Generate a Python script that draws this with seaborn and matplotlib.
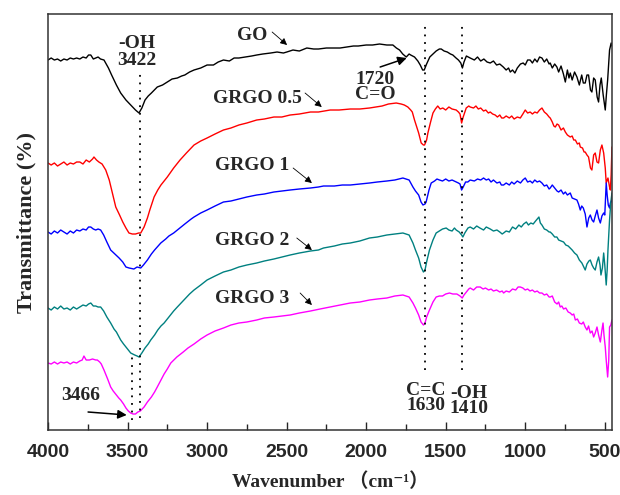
import matplotlib
matplotlib.use('Agg')
import matplotlib.pyplot as plt
import seaborn as sns
from matplotlib.ticker import MultipleLocator

# FTIR spectra (wavenumber in cm-1, transmittance in arbitrary offset units)
go_wn = [4000, 3980, 3960, 3940, 3920, 3900, 3880, 3860, 3840, 3820, 3800, 3780, 3760, 3745, 3731,
         3715, 3700, 3685, 3670, 3648, 3620, 3600, 3570, 3543, 3510, 3480, 3450, 3428, 3410, 3390,
         3370, 3350, 3313, 3280, 3250, 3220, 3187, 3160, 3140, 3110, 3082, 3040, 3000, 2960, 2930,
         2897, 2860, 2830, 2800, 2760, 2720, 2688, 2650, 2600, 2560, 2520, 2499, 2460, 2420, 2373,
         2330, 2300, 2250, 2200, 2164, 2120, 2080, 2050, 2000, 1960, 1916, 1870, 1832, 1810, 1790,
         1770, 1748, 1730, 1720, 1696, 1675, 1660, 1645, 1635, 1620, 1600, 1580, 1560, 1540, 1528,
         1510, 1490, 1470, 1455, 1435, 1420, 1405, 1395, 1385, 1370,
         1346, 1320, 1300, 1280, 1260, 1240, 1220, 1200, 1180, 1160, 1138, 1120, 1105, 1094, 1080,
         1065, 1050, 1030, 1013, 1000, 985, 969, 955, 940, 925, 910, 895, 880, 865, 850, 843, 830,
         815, 801, 790, 775, 760, 748, 735, 725, 717, 705, 690, 675, 660, 645, 635, 623, 612, 602,
         590, 581, 570, 560, 548, 539, 530, 522, 510, 497, 490, 482, 470, 460, 455]
go_t = [370, 372, 370, 371, 369, 371, 370, 372, 371, 372, 371, 373, 372, 375, 375,
        371, 372, 373, 371, 370, 362, 355, 345, 337, 330, 325, 320, 317, 322, 330,
        334, 337, 343, 345, 348, 351, 352, 354, 355, 358, 360, 362, 365, 365, 368,
        370, 369, 372, 372, 373, 374, 375, 376, 377, 378, 377, 378, 380, 379, 382,
        381, 381, 382, 382, 382, 383, 384, 384, 385, 385, 386, 385, 385, 382, 380,
        376, 373, 376, 375, 373, 369, 365, 360, 360, 366, 373, 376, 379, 381, 381,
        379, 378, 376, 375, 372, 370, 367, 362, 368, 374,
        372, 370, 373, 369, 371, 368, 367, 369, 365, 366, 363, 360, 362, 358, 360,
        357, 362, 366, 367, 365, 370, 370, 367, 371, 368, 373, 372, 368, 371, 366, 367, 362,
        366, 363, 358, 364, 356, 348, 360, 352, 357, 350, 358, 353, 345, 355, 347, 347, 355, 355,
        340, 338, 352, 350, 333, 328, 345, 352, 335, 320, 335, 350, 380, 387, 384]

grgo05_wn = [4000, 3980, 3960, 3940, 3920, 3900, 3880, 3860, 3840, 3820, 3800, 3780, 3760, 3740,
             3720, 3711, 3695, 3680, 3660, 3637, 3615, 3600, 3574, 3550, 3530, 3510, 3491, 3470,
             3450, 3430, 3417, 3396, 3375, 3360, 3333, 3310, 3290, 3270, 3250, 3210, 3170, 3130,
             3082, 3040, 3000, 2950, 2897, 2850, 2800, 2750, 2688, 2640, 2580, 2530, 2478, 2420,
             2350, 2300, 2226, 2170, 2100, 2040, 1979, 1940, 1900, 1860, 1811, 1780, 1760, 1738,
             1720, 1710, 1696, 1680, 1670, 1654, 1640, 1633, 1620, 1612, 1595, 1580, 1565, 1550,
             1535, 1518, 1500, 1480, 1460, 1434, 1420, 1410, 1400, 1390, 1371, 1355,
             1346, 1325, 1310, 1295, 1280, 1262, 1248, 1232, 1220, 1205, 1189, 1175, 1160, 1148,
             1136, 1120, 1100, 1085, 1070, 1050, 1031, 1015, 1000, 985, 969, 955, 940, 925, 910,
             895, 880, 865, 850, 843, 830, 820, 811, 800, 790, 775, 760, 748, 735, 717, 705, 695,
             685, 672, 660, 654, 640, 630, 623, 612, 602, 590, 581, 570, 560, 549, 539, 528, 518,
             507, 497, 491, 480, 470, 465, 460, 455]
grgo05_t = [267, 265, 267, 264, 266, 268, 265, 267, 266, 268, 268, 266, 270, 268,
            271, 273, 270, 268, 266, 260, 250, 240, 223, 215, 208, 202, 197, 196,
            196, 197, 197, 203, 212, 220, 233, 240, 245, 249, 253, 262, 270, 277,
            285, 289, 292, 296, 300, 302, 305, 307, 310, 311, 313, 313, 315, 316,
            318, 318, 320, 320, 321, 321, 322, 323, 324, 326, 327, 326, 325, 323,
            320, 318, 310, 302, 297, 287, 285, 285, 290, 297, 308, 317, 321, 324,
            321, 322, 320, 323, 321, 320, 318, 316, 307, 313, 322, 324,
            323, 322, 324, 321, 322, 319, 320, 317, 318, 316, 315, 313, 315, 312,
            312, 314, 312, 314, 311, 313, 312, 316, 320, 317, 318, 316, 318, 317, 320,
            322, 318, 316, 313, 312, 308, 304, 303, 306, 305, 300, 302, 298, 295, 293, 294, 290,
            290, 286, 287, 283, 282, 278, 278, 275, 273, 262, 260, 275, 277, 268, 267, 280, 285,
            277, 262, 247, 252, 243, 240, 255, 283]

grgo1_wn = [4000, 3980, 3960, 3940, 3920, 3900, 3880, 3860, 3840, 3820, 3800, 3780, 3760, 3745,
            3731, 3715, 3700, 3685, 3669, 3650, 3630, 3606, 3580, 3553, 3530, 3510, 3490, 3460,
            3440, 3417, 3400, 3375, 3350, 3330, 3291, 3260, 3240, 3210, 3187, 3140, 3100, 3082,
            3040, 3000, 2950, 2897, 2850, 2800, 2750, 2688, 2640, 2580, 2530, 2478, 2420, 2350,
            2300, 2268, 2200, 2150, 2100, 2040, 1979, 1930, 1870, 1820, 1769, 1750, 1730, 1706,
            1690, 1670, 1655, 1643, 1630, 1623, 1605, 1591, 1570, 1555, 1539, 1520, 1500, 1480,
            1460, 1434, 1420, 1410, 1400, 1390, 1375, 1361,
            1346, 1320, 1300, 1280, 1262, 1245, 1230, 1215, 1200, 1178, 1160, 1150, 1136, 1120,
            1100, 1085, 1070, 1050, 1030, 1015, 1000, 985, 969, 955, 940, 925, 910, 895, 880,
            865, 850, 843, 830, 815, 800, 790, 775, 760, 748, 735, 717, 705, 690, 675, 665, 654,
            645, 635, 623, 612, 601, 591, 580, 570, 560, 549, 539, 528, 518, 507, 500, 491, 485,
            478, 470, 465, 455]
grgo1_t = [198, 196, 199, 197, 200, 198, 196, 199, 197, 200, 199, 201, 200, 203,
           203, 201, 200, 201, 200, 195, 188, 180, 176, 172, 168, 163, 162, 161,
           163, 162, 165, 170, 176, 180, 187, 191, 194, 197, 200, 206, 211, 213,
           217, 220, 224, 228, 229, 231, 233, 235, 236, 238, 239, 240, 241, 242,
           243, 244, 244, 245, 245, 246, 247, 248, 249, 250, 252, 251, 250, 243,
           239, 235, 228, 225, 226, 228, 240, 247, 249, 251, 250, 249, 251, 249,
           250, 248, 247, 246, 240, 243, 248, 248,
           250, 249, 251, 250, 252, 250, 251, 248, 250, 247, 248, 245, 245, 247,
           245, 248, 246, 249, 247, 250, 252, 248, 249, 247, 250, 248, 249, 247, 244,
           245, 241, 242, 245, 242, 239, 238, 240, 236, 238, 235, 237, 232, 231, 230, 226, 220,
           224, 222, 216, 203, 212, 215, 210, 208, 214, 220, 212, 207, 214, 217, 215, 247, 235,
           225, 222, 227, 230]

grgo2_wn = [4000, 3980, 3960, 3940, 3920, 3900, 3880, 3860, 3840, 3820, 3800, 3780, 3760, 3745,
            3731, 3715, 3700, 3685, 3669, 3650, 3630, 3606, 3585, 3570, 3543, 3525, 3510, 3495,
            3480, 3455, 3440, 3428, 3410, 3390, 3370, 3354, 3330, 3310, 3290, 3270, 3250, 3230,
            3210, 3187, 3140, 3110, 3082, 3040, 3000, 2950, 2897, 2850, 2800, 2750, 2688, 2640,
            2580, 2530, 2478, 2420, 2350, 2300, 2268, 2200, 2150, 2100, 2040, 1979, 1930, 1870,
            1820, 1769, 1750, 1730, 1706, 1690, 1670, 1655, 1640, 1630, 1620, 1602, 1580, 1560,
            1540, 1520, 1497, 1480, 1460, 1445, 1434, 1415, 1400, 1392, 1380, 1360,
            1346, 1325, 1305, 1285, 1262, 1245, 1220, 1200, 1178, 1160, 1145, 1136, 1120, 1100,
            1080, 1060, 1040, 1025, 1010, 993, 980, 965, 950, 935, 914, 905, 895, 880, 865, 850,
            843, 830, 815, 801, 790, 775, 759, 745, 730, 717, 705, 690, 675, 660, 644, 635, 623,
            612, 600, 591, 580, 570, 560, 549, 539, 530, 524, 515, 507, 500, 491, 485, 480, 470,
            462, 455]
grgo2_t = [122, 120, 123, 121, 124, 121, 122, 120, 123, 121, 123, 125, 124, 126,
           127, 124, 124, 123, 123, 119, 113, 107, 101, 98, 90, 86, 83, 80,
           77, 75, 74, 73, 77, 82, 86, 90, 95, 100, 104, 107, 111, 115,
           119, 123, 131, 136, 140, 145, 150, 154, 158, 160, 163, 165, 167, 169,
           171, 173, 175, 177, 179, 180, 182, 184, 186, 187, 189, 192, 193, 195,
           196, 197, 196, 195, 187, 180, 172, 163, 158, 160, 168, 180, 190, 197,
           199, 201, 202, 200, 199, 202, 200, 198, 195, 193, 197, 202,
           203, 201, 204, 202, 200, 203, 201, 199, 200, 198, 196, 197, 199, 198,
           203, 201, 205, 203, 206, 208, 205, 207, 206, 209, 213, 207, 205, 201, 200, 198,
           198, 196, 193, 193, 190, 189, 188, 185, 184, 182, 180, 177, 175, 170, 167, 164, 160,
           166, 169, 170, 165, 162, 160, 168, 173, 165, 155, 162, 177, 165, 145, 160, 180, 210,
           228, 237]

grgo3_wn = [4000, 3980, 3960, 3940, 3920, 3900, 3880, 3860, 3840, 3820, 3800, 3785, 3774, 3760,
            3740, 3720, 3700, 3690, 3675, 3665, 3648, 3625, 3606, 3590, 3570, 3555, 3543, 3525,
            3510, 3495, 3480, 3465, 3450, 3435, 3420, 3396, 3375, 3350, 3330, 3313, 3290, 3270,
            3250, 3228, 3190, 3150, 3120, 3082, 3040, 3000, 2950, 2897, 2850, 2800, 2750, 2688,
            2640, 2580, 2530, 2478, 2420, 2350, 2290, 2226, 2160, 2100, 2040, 1979, 1930, 1870,
            1820, 1769, 1750, 1730, 1706, 1690, 1670, 1655, 1640, 1630, 1620, 1602, 1580, 1560,
            1540, 1520, 1500, 1476, 1455, 1430, 1410, 1396, 1385, 1370, 1355,
            1346, 1325, 1305, 1283, 1265, 1250, 1230, 1215, 1200, 1180, 1160, 1145, 1136, 1120,
            1100, 1080, 1060, 1045, 1031, 1015, 1000, 985, 970, 955, 940, 925, 910, 895, 880,
            865, 850, 843, 830, 815, 800, 790, 780, 770, 759, 745, 730, 717, 705, 695, 685, 672,
            660, 645, 635, 623, 612, 602, 591, 580, 570, 560, 549, 539, 528, 518, 511, 505, 497,
            490, 482, 475, 470, 462, 455]
grgo3_t = [67, 66, 68, 66, 68, 67, 68, 66, 68, 67, 69, 70, 74, 70,
           70, 71, 70, 70, 68, 66, 60, 51, 43, 39, 35, 32, 30, 26,
           22, 19, 17, 16, 16, 18, 19, 23, 28, 33, 38, 43, 50, 56,
           61, 67, 73, 78, 82, 86, 91, 95, 99, 102, 105, 107, 108, 110,
           112, 113, 114, 115, 117, 119, 121, 123, 125, 127, 128, 130, 131, 132,
           134, 135, 134, 133, 127, 122, 115, 108, 105, 107, 113, 120, 128, 133,
           134, 134, 136, 137, 136, 136, 134, 132, 135, 138, 141,
           142, 140, 143, 143, 141, 142, 140, 141, 139, 140, 138, 139, 137, 139,
           138, 141, 140, 143, 143, 142, 140, 141, 139, 140, 138, 139, 137, 137, 135,
           136, 133, 133, 134, 128, 126, 128, 123, 124, 121, 122, 118, 117, 115, 116, 110, 111,
           107, 106, 108, 103, 100, 104, 97, 99, 93, 97, 103, 95, 88, 100, 107, 95, 83,
           68, 53, 70, 103, 105, 110]

series = [
    ('GO', go_wn, go_t, 'black'),
    ('GRGO 0.5', grgo05_wn, grgo05_t, '#ff0000'),
    ('GRGO 1', grgo1_wn, grgo1_t, '#0000ff'),
    ('GRGO 2', grgo2_wn, grgo2_t, '#008080'),
    ('GRGO 3', grgo3_wn, grgo3_t, '#ff00ff'),
]

# label text position, arrow tail, arrow head
labels = [
    ('GO', (2717, 395), (2591, 398), (2497, 385)),
    ('GRGO 0.5', (2682, 332), (2384, 337), (2279, 323)),
    ('GRGO 1', (2714, 265), (2459, 262), (2341, 247)),
    ('GRGO 2', (2714, 190), (2436, 192), (2341, 180)),
    ('GRGO 3', (2714, 132), (2415, 137), (2341, 125)),
]

# dotted marker lines: wavenumber, y start, y end
marks = [(3422, 12, 360), (3475, 10, 78), (1633, 60, 407), (1396, 60, 407)]

sns.set_style('ticks')
fams = ['Liberation Serif', 'DejaVu Serif', 'Noto Sans CJK SC']
plt.rcParams['font.family'] = fams

fig = plt.figure(figsize=(6.2, 4.95), dpi=100)
ax = fig.add_axes([0.0774, 0.1313, 0.9096, 0.8404])

for name, wn, t, c in series:
    sns.lineplot(x=wn, y=t, color=c, lw=1.0, ax=ax, estimator=None, sort=False)

for w, y0, y1 in marks:
    ax.plot([w, w], [y0, y1], color='black', lw=1.3, linestyle=(0, (1, 3.2)))

serif = dict(family=fams, fontweight='bold', fontsize=14)

for name, pos, tail, head in labels:
    ax.text(pos[0], pos[1], name, ha='center', va='center', **serif)
    ax.annotate('', xy=head, xytext=tail,
                arrowprops=dict(arrowstyle='-|>', color='black', lw=0.6,
                                mutation_scale=10, shrinkA=0, shrinkB=0))

ax.text(3440, 378, '-OH\n3422', ha='center', va='center', linespacing=0.95, **serif)
ax.text(1943, 343, '1720\nC=O', ha='center', va='center', linespacing=0.9, **serif)
ax.annotate('', xy=(1745, 372), xytext=(1912, 363),
            arrowprops=dict(arrowstyle='-|>', color='black', lw=1.1,
                            mutation_scale=13, shrinkA=0, shrinkB=0))
ax.text(3792, 35, '3466', ha='center', va='center', **serif)
ax.annotate('', xy=(3505, 15), xytext=(3748, 18),
            arrowprops=dict(arrowstyle='-|>', color='black', lw=1.1,
                            mutation_scale=13, shrinkA=0, shrinkB=0))
ax.text(1626, 32, 'C=C\n1630', ha='center', va='center', linespacing=0.85, **serif)
ax.text(1355, 29, '-OH\n1410', ha='center', va='center', linespacing=0.9, **serif)

ax.set_xlim(4000, 455)
ax.set_ylim(0, 416)
ax.xaxis.set_major_locator(MultipleLocator(500))
ax.xaxis.set_minor_locator(MultipleLocator(250))
ax.tick_params(axis='x', which='major', direction='in', length=6, width=1.0,
               top=False, labelsize=14, pad=10)
ax.tick_params(axis='x', which='minor', direction='in', length=4, width=1.0, top=False)
ax.set_yticks([])
for lab in ax.get_xticklabels():
    lab.set_family('Liberation Sans')
    lab.set_fontweight('bold')
for sp in ax.spines.values():
    sp.set_linewidth(1.1)
    sp.set_color('#333333')

ax.set_xlabel('Wavenumber （cm⁻¹）', fontsize=14, labelpad=8, family=fams, fontweight='bold')
ax.set_ylabel('Transmittance (%)', fontsize=16, labelpad=8, family=fams, fontweight='bold')

fig.savefig('out.png', dpi=100)
